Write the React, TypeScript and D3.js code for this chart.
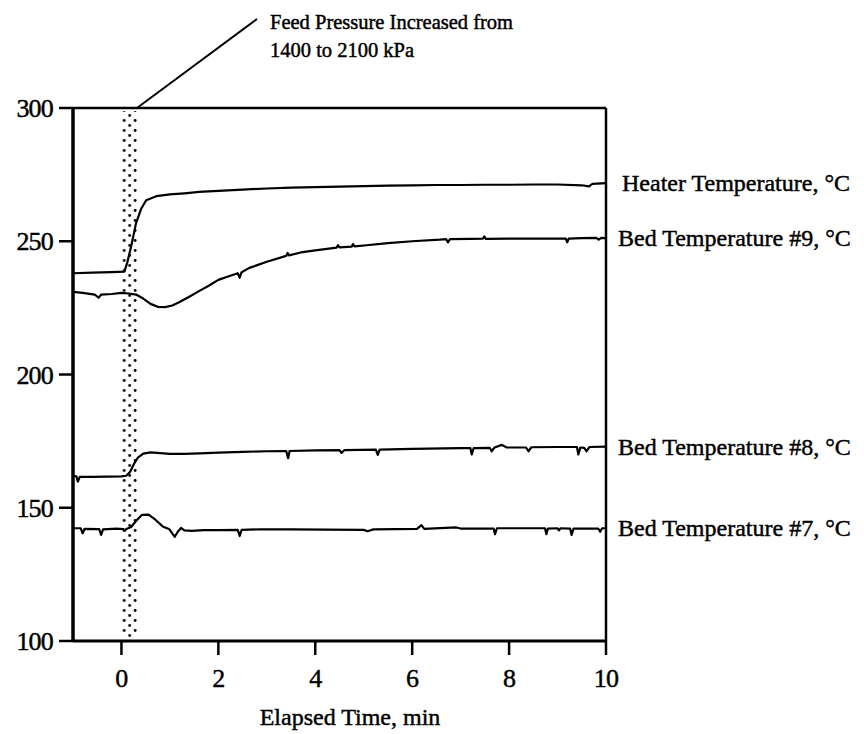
import React from "react";
import * as d3 from "d3";

const xTicks = [0, 2, 4, 6, 8, 10];
const yTicks = [100, 150, 200, 250, 300];
const xDomain: [number, number] = [-1, 10];
const yDomain: [number, number] = [100, 300];
const pressureBand: [number, number] = [0.02, 0.32];

const seriesNames = [
  "Heater Temperature, °C",
  "Bed Temperature #9, °C",
  "Bed Temperature #8, °C",
  "Bed Temperature #7, °C",
];

const heater: [number, number][] = [
  [-1, 238.0], [-0.6, 238.2], [-0.2, 238.4], [0.06, 238.6], [0.12, 242.0], [0.2, 248.0],
  [0.3, 256.7], [0.41, 262.3], [0.51, 265.4], [0.72, 266.9], [1.0, 267.6], [1.3, 268.0],
  [1.6, 268.5], [2.0, 268.9], [2.5, 269.4], [3.0, 269.8], [3.5, 270.1], [4.0, 270.3],
  [4.5, 270.5], [5.0, 270.7], [5.5, 270.9], [6.0, 271.0], [6.5, 271.1], [7.0, 271.1],
  [7.5, 271.2], [8.0, 271.2], [8.5, 271.3], [9.0, 271.3], [9.5, 271.0], [9.65, 270.6],
  [9.72, 271.5], [10, 271.8],
];

const bed9: [number, number][] = [
  [-1, 231.0], [-0.8, 230.6], [-0.55, 230.0], [-0.47, 228.8], [-0.42, 230.0], [-0.2, 230.2],
  [0, 230.6], [0.15, 230.4], [0.3, 230.0], [0.45, 228.5], [0.6, 226.5], [0.75, 225.4],
  [0.9, 225.3], [1.05, 225.9], [1.2, 227.2], [1.4, 229.2], [1.6, 231.3], [1.8, 233.3],
  [2.0, 235.5], [2.2, 236.8], [2.4, 238.0], [2.44, 236.3], [2.48, 238.4], [2.64, 240.0],
  [3.0, 242.3], [3.4, 244.5], [3.43, 245.6], [3.46, 244.7], [3.7, 245.8], [4.0, 246.6],
  [4.44, 247.6], [4.47, 248.5], [4.5, 247.7], [4.75, 248.0], [4.78, 248.9], [4.81, 248.1],
  [5.06, 248.5], [5.5, 249.3], [6.0, 250.0], [6.57, 250.6], [6.7, 250.8], [6.74, 249.6],
  [6.78, 250.8], [7.2, 250.9], [7.46, 251.0], [7.49, 251.8], [7.52, 250.9], [8.0, 251.0],
  [8.5, 251.0], [9.0, 251.0], [9.17, 251.0], [9.2, 249.6], [9.23, 251.0], [9.5, 251.2],
  [9.8, 251.3], [9.85, 250.6], [9.9, 251.3], [10, 251.2],
];

const bed8: [number, number][] = [
  [-1, 162.0], [-0.93, 161.8], [-0.9, 159.8], [-0.86, 161.6], [-0.6, 161.6], [-0.3, 161.7],
  [0, 161.8], [0.1, 162.0], [0.18, 163.5], [0.26, 166.5], [0.34, 168.8], [0.45, 170.3],
  [0.6, 170.8], [0.8, 170.5], [1.0, 170.2], [1.3, 170.2], [1.61, 170.4], [2.0, 170.7],
  [2.5, 171.0], [3.0, 171.2], [3.4, 171.3], [3.44, 168.6], [3.47, 171.3], [4.0, 171.5],
  [4.5, 171.6], [4.54, 170.6], [4.6, 171.6], [5.25, 171.8], [5.29, 169.8], [5.33, 171.8],
  [6.0, 172.1], [7.0, 172.4], [7.2, 172.4], [7.23, 170.0], [7.27, 172.4], [7.6, 172.5],
  [7.64, 171.2], [7.7, 172.6], [7.85, 173.6], [7.95, 172.6], [8.35, 172.6], [8.4, 171.2],
  [8.46, 172.7], [9.0, 172.8], [9.4, 172.8], [9.43, 170.0], [9.47, 172.6], [9.55, 172.5],
  [9.6, 171.2], [9.66, 172.8], [10, 172.9],
];

const bed7: [number, number][] = [
  [-1, 142.3], [-0.84, 142.3], [-0.8, 140.4], [-0.76, 142.1], [-0.46, 142.0], [-0.42, 139.8],
  [-0.38, 141.9], [-0.1, 142.2], [0.04, 142.0], [0.07, 141.4], [0.1, 142.0], [0.2, 142.8],
  [0.3, 145.0], [0.42, 147.3], [0.56, 147.4], [0.7, 145.5], [0.85, 143.0], [0.99, 141.9],
  [1.1, 139.1], [1.17, 141.2], [1.23, 142.4], [1.3, 141.5], [1.45, 141.3], [1.7, 141.6],
  [2.0, 141.6], [2.4, 141.7], [2.44, 139.4], [2.48, 141.7], [2.85, 141.9], [3.5, 141.9],
  [4.2, 141.8], [5.0, 141.7], [5.08, 141.2], [5.2, 141.9], [6.1, 142.1], [6.19, 143.5],
  [6.25, 142.1], [6.91, 142.6], [7.0, 142.2], [7.68, 142.2], [7.71, 140.1], [7.75, 142.3],
  [8.5, 142.3], [8.74, 142.3], [8.77, 140.1], [8.8, 142.2], [9.0, 142.3], [9.03, 141.5],
  [9.06, 142.3], [9.26, 142.2], [9.29, 139.8], [9.33, 142.2], [9.84, 142.2], [9.88, 141.0],
  [9.92, 142.3], [10, 142.3],
];

const allSeries = [heater, bed9, bed8, bed7];

const W = 864;
const H = 734;
const FONT = "'Liberation Serif', 'Times New Roman', serif";
const TEXT_STROKE = 0.45;

export default function App() {
  const x = d3.scaleLinear().domain(xDomain).range([73, 606]);
  const y = d3.scaleLinear().domain(yDomain).range([641, 108]);
  const line = d3
    .line<[number, number]>()
    .x((d) => x(d[0]))
    .y((d) => y(d[1]))
    .curve(d3.curveLinear);

  const bx0 = x(pressureBand[0]);
  const bx1 = x(pressureBand[1]);
  const textProps = { fontFamily: FONT, fill: "#000", stroke: "#000", strokeWidth: TEXT_STROKE };

  return (
    <svg
      width={W}
      height={H}
      viewBox={`0 0 ${W} ${H}`}
      style={{ position: "absolute", left: 0, top: 0, display: "block", background: "#fff" }}
    >
      <defs>
        <pattern id="dots" patternUnits="userSpaceOnUse" x={bx0} y={y(300)} width={bx1 - bx0} height={10}>
          <circle cx={1.8} cy={2.5} r={1.4} fill="#000" />
          <circle cx={bx1 - bx0 - 1.8} cy={2.5} r={1.4} fill="#000" />
          <circle cx={(bx1 - bx0) / 2} cy={7.5} r={1.4} fill="#000" />
        </pattern>
      </defs>
      <rect x={0} y={0} width={W} height={H} fill="#fff" />

      <rect x={bx0} y={y(300) + 3} width={bx1 - bx0} height={y(100) - y(300) - 6} fill="url(#dots)" />

      {allSeries.map((s, i) => (
        <path key={i} d={line(s) || ""} fill="none" stroke="#000" strokeWidth={2.2} strokeLinejoin="round" />
      ))}

      <line x1={x(-1)} x2={x(10)} y1={y(300)} y2={y(300)} stroke="#000" strokeWidth={2.5} />
      <line x1={x(10)} x2={x(10)} y1={y(300)} y2={y(100)} stroke="#000" strokeWidth={2.5} />
      <line x1={x(-1)} x2={x(-1)} y1={y(300) - 1} y2={y(100) + 1} stroke="#000" strokeWidth={3.5} />
      <line x1={x(-1)} x2={x(10) + 1} y1={y(100)} y2={y(100)} stroke="#000" strokeWidth={3} />

      {yTicks.map((t) => (
        <g key={"y" + t}>
          <line x1={x(-1) - 14} x2={x(-1)} y1={y(t)} y2={y(t)} stroke="#000" strokeWidth={2.5} />
          <text x={53} y={y(t) + 9} textAnchor="end" fontSize={26} letterSpacing={-0.8} {...textProps}>
            {t}
          </text>
        </g>
      ))}

      {xTicks.map((t) => (
        <g key={"x" + t}>
          <line x1={x(t)} x2={x(t)} y1={y(100)} y2={y(100) + 14} stroke="#000" strokeWidth={2.5} />
          <text x={x(t)} y={687} textAnchor="middle" fontSize={26} letterSpacing={-0.8} {...textProps}>
            {t}
          </text>
        </g>
      ))}

      <text x={350} y={725} textAnchor="middle" fontSize={24} {...textProps}>
        Elapsed Time, min
      </text>

      {allSeries.map((s, i) => (
        <text key={"l" + i} x={i === 0 ? 622 : 618} y={y(s[s.length - 1][1]) + 8} fontSize={24} {...textProps}>
          {seriesNames[i]}
        </text>
      ))}

      <line x1={bx1} x2={257} y1={y(300)} y2={19} stroke="#000" strokeWidth={2} />
      <text x={270} y={29} fontSize={20.5} {...textProps}>
        Feed Pressure Increased from
      </text>
      <text x={270} y={57} fontSize={20.5} {...textProps}>
        1400 to 2100 kPa
      </text>
    </svg>
  );
}
